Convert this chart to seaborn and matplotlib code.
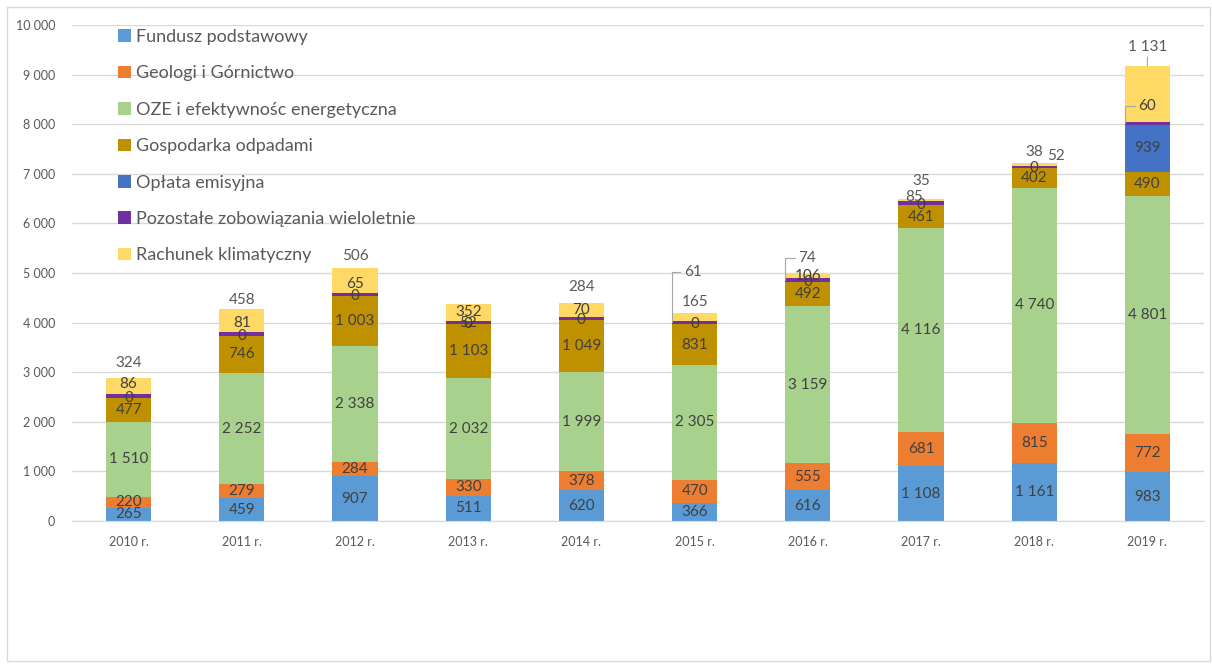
import numpy as np
import pandas as pd
import matplotlib
matplotlib.use("Agg")
import matplotlib.pyplot as plt
from matplotlib.patches import Rectangle
from matplotlib.transforms import offset_copy
from matplotlib.ticker import FuncFormatter, MultipleLocator
import seaborn as sns

years = ["2010 r.", "2011 r.", "2012 r.", "2013 r.", "2014 r.",
         "2015 r.", "2016 r.", "2017 r.", "2018 r.", "2019 r."]
series_names = ["Fundusz podstawowy", "Geologi i Górnictwo",
                "OZE i efektywnośc energetyczna", "Gospodarka odpadami",
                "Opłata emisyjna", "Pozostałe zobowiązania wieloletnie",
                "Rachunek klimatyczny"]
fundusz = [265, 459, 907, 511, 620, 366, 616, 1108, 1161, 983]
geologia = [220, 279, 284, 330, 378, 470, 555, 681, 815, 772]
oze = [1510, 2252, 2338, 2032, 1999, 2305, 3159, 4116, 4740, 4801]
odpady = [477, 746, 1003, 1103, 1049, 831, 492, 461, 402, 490]
emisyjna = [0, 0, 0, 0, 0, 0, 0, 0, 0, 939]
pozostale = [86, 81, 65, 52, 70, 61, 74, 85, 38, 60]
klimat = [324, 458, 506, 352, 284, 165, 106, 35, 52, 1131]

colors = ["#5B9BD5", "#ED7D31", "#A9D18E", "#BF9000", "#4472C4", "#7030A0", "#FFD966"]
all_series = [fundusz, geologia, oze, odpady, emisyjna, pozostale, klimat]

sns.set_style("white")
plt.rcParams["font.family"] = ["Lato", "DejaVu Sans"]

fig = plt.figure(figsize=(12.12, 6.64), dpi=100)
ax = fig.add_axes([72 / 1212, 1 - 521 / 664, (1204 - 72) / 1212, (521 - 25) / 664])

bottoms = np.zeros(len(years))
for name, vals, c in zip(series_names, all_series, colors):
    sns.barplot(x=years, y=vals, bottom=bottoms, color=c, saturation=1,
                width=0.4, label=name, linewidth=0, ax=ax)
    bottoms = bottoms + np.array(vals)
totals = bottoms

ax.set_ylim(0, 10000)
ax.set_xlim(-0.5, len(years) - 0.5)
ax.yaxis.set_major_locator(MultipleLocator(1000))
ax.yaxis.set_major_formatter(FuncFormatter(lambda v, p: f"{int(v):,}".replace(",", " ")))
ax.grid(axis="y", color="#D9D9D9", lw=1)
ax.set_axisbelow(True)
for s in ["top", "right", "left"]:
    ax.spines[s].set_visible(False)
ax.spines["bottom"].set_color("#D9D9D9")
ax.tick_params(axis="both", length=0, labelsize=9, colors="#595959")
ax.tick_params(axis="y", pad=12)
ax.tick_params(axis="x", pad=11)
ax.set_xlabel("")
ax.set_ylabel("")

# label placement tweaks (pixels, relative to bar top) for small segments
moved = {
    (5, 0): (0, -6), (6, 0): (0, 15),
    (5, 1): (0, -14), (6, 1): (0, 9),
    (5, 2): (0, -16), (6, 2): (0, 12),
    (5, 4): (0, -7), (6, 4): (0, 16),
    (5, 5): (-2, 41), (6, 5): (0, 11),
    (5, 6): (-1, 15),
    (5, 7): (-7, 2), (6, 7): (0, 18),
    (5, 8): (0, 11), (6, 8): (22, 7),
    (5, 9): (0, -40), (6, 9): (0, 19),
}
leaders = {(5, 5), (5, 6), (5, 9), (6, 9)}

fmt = lambda v: f"{v:,}".replace(",", " ")
base = np.zeros(len(years))
for si, vals in enumerate(all_series):
    for i, v in enumerate(vals):
        mid = base[i] + v / 2
        key = (si, i)
        if key in moved:
            dx, dy = moved[key]
            tr = offset_copy(ax.transData, fig=fig, x=dx, y=dy, units="dots")
            col = "#595959" if dy > 0 else "#404040"
            if key in leaders:
                if si == 6:
                    pt = (i, totals[i])
                    cs = "arc3"
                else:
                    pt = (i - 0.2, mid)
                    cs = "angle,angleA=0,angleB=90,rad=0"
                ax.annotate(fmt(v), xy=pt, xycoords="data", xytext=(i, totals[i]),
                            textcoords=tr, ha="center", va="center", fontsize=11,
                            color=col,
                            arrowprops=dict(arrowstyle="-", color="#A6A6A6", lw=0.8,
                                            connectionstyle=cs, shrinkA=0, shrinkB=0))
            else:
                ax.text(i, totals[i], fmt(v), transform=tr, ha="center", va="center",
                        fontsize=11, color=col)
        else:
            ax.text(i, mid, fmt(v), ha="center", va="center", fontsize=11, color="#404040")
    base = base + np.array(vals)

leg = ax.legend(loc="upper left", bbox_to_anchor=(118 / 1212, 1 - 29 / 664),
                bbox_transform=fig.transFigure, frameon=False, fontsize=13,
                handlelength=0.7, handleheight=0.7, handletextpad=0.3,
                labelspacing=1.13, borderpad=0, borderaxespad=0)
for t in leg.get_texts():
    t.set_color("#595959")

fig.patches.append(Rectangle((7 / 1212, 3 / 664), 1203 / 1212, 654 / 664,
                             transform=fig.transFigure, fill=False,
                             edgecolor="#D9D9D9", lw=1))

fig.savefig("out.png", dpi=100)
